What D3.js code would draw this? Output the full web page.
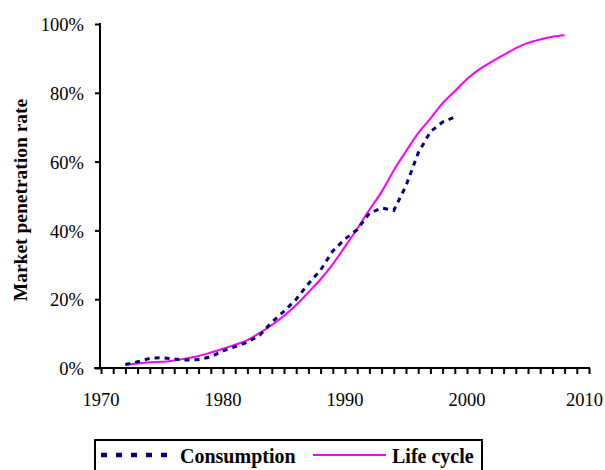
<!DOCTYPE html>
<html><head><meta charset="utf-8">
<script src="https://cdn.jsdelivr.net/npm/d3@7"></script>
<style>body{margin:0;background:#fff}svg{display:block}text{font-family:"Liberation Serif","Times New Roman",serif;fill:#000}</style>
</head><body><svg id="c" width="605" height="470"></svg>
<script>
const consYears = d3.range(1972, 2000);
const consumption = [1.0,1.8,2.8,3.0,2.6,2.3,2.5,3.2,5.0,6.2,7.5,9.5,13.3,16.5,20.0,24.5,28.5,34.0,37.5,40.2,45.0,46.5,45.8,53.0,62.5,68.7,71.5,73.0];
const lifeYears = d3.range(1972, 2009);
const lifeCycle = [1.0,1.3,1.7,1.8,2.2,2.8,3.5,4.5,5.6,6.8,8.1,10.2,12.5,15.2,18.3,22.0,25.8,30.2,35.3,40.5,46.0,51.2,57.5,63.0,68.3,72.5,77.0,80.5,84.0,86.8,89.0,91.0,93.0,94.5,95.5,96.3,96.7];
const yTicks = [0,20,40,60,80,100];
const xLabelTicks = [1970,1980,1990,2000,2010];
const seriesNames = ["Consumption","Life cycle"];

const svg = d3.select("#c");
const x = d3.scaleLinear().domain([1970,2010]).range([101,589]);
const y = d3.scaleLinear().domain([0,100]).range([368,24]);

// y axis
const ya = svg.append("g").attr("transform","translate(100,0)")
  .call(d3.axisLeft(y).tickValues(yTicks).tickSize(5).tickFormat(d=>d+"%"));
ya.select(".domain").attr("stroke","#000").attr("stroke-width",2).attr("d","M0,23V369");
ya.selectAll(".tick line").attr("stroke-width",2);
ya.selectAll(".tick text").attr("font-size",18.5).attr("x",-16).attr("dy","0.36em").attr("font-family",'"Liberation Serif",serif');

// x axis
const xa = svg.append("g").attr("transform","translate(0,368)")
  .call(d3.axisBottom(x).tickValues(d3.range(1970,2011)).tickSize(6).tickFormat(""));
xa.select(".domain").attr("stroke","#000").attr("stroke-width",2).attr("d","M94,0H590");
xa.selectAll(".tick line").attr("stroke-width",2);
svg.append("g").selectAll("text").data(xLabelTicks).join("text")
  .attr("y",406).attr("text-anchor","middle").attr("font-size",18.5).text(d=>d)
  .each(function(d){
    const w = this.getComputedTextLength();
    const cx = Math.min(x(d), 603 - w/2);
    d3.select(this).attr("x", cx);
  });

// y label
svg.append("text").attr("transform","translate(27,200) rotate(-90)")
  .attr("text-anchor","middle").attr("font-weight","bold").attr("font-size",19.5)
  .text("Market penetration rate");

// lines
const lifeLine = d3.line().x((d,i)=>x(lifeYears[i])).y(d=>y(d)).curve(d3.curveMonotoneX);
svg.append("path").attr("d",lifeLine(lifeCycle)).attr("fill","none").attr("stroke","#ff00ff").attr("stroke-width",2);
const consLine = d3.line().x((d,i)=>x(consYears[i])).y(d=>y(d));
svg.append("path").attr("d",consLine(consumption)).attr("fill","none").attr("stroke","#000080")
  .attr("stroke-width",3).attr("stroke-dasharray","5,5");

// legend
const lg = svg.append("g");
lg.append("rect").attr("x",95).attr("y",440).attr("width",387).attr("height",40)
  .attr("fill","#fff").attr("stroke","#000").attr("stroke-width",2);
lg.append("line").attr("x1",101).attr("x2",169).attr("y1",455).attr("y2",455)
  .attr("stroke","#000080").attr("stroke-width",4.5).attr("stroke-dasharray","6,9");
lg.append("text").attr("x",180).attr("y",463).attr("font-weight","bold").attr("font-size",20).text(seriesNames[0]);
lg.append("line").attr("x1",313).attr("x2",386).attr("y1",455).attr("y2",455)
  .attr("stroke","#ff00ff").attr("stroke-width",2);
lg.append("text").attr("x",392).attr("y",463).attr("font-weight","bold").attr("font-size",20).text(seriesNames[1]);
</script></body></html>
